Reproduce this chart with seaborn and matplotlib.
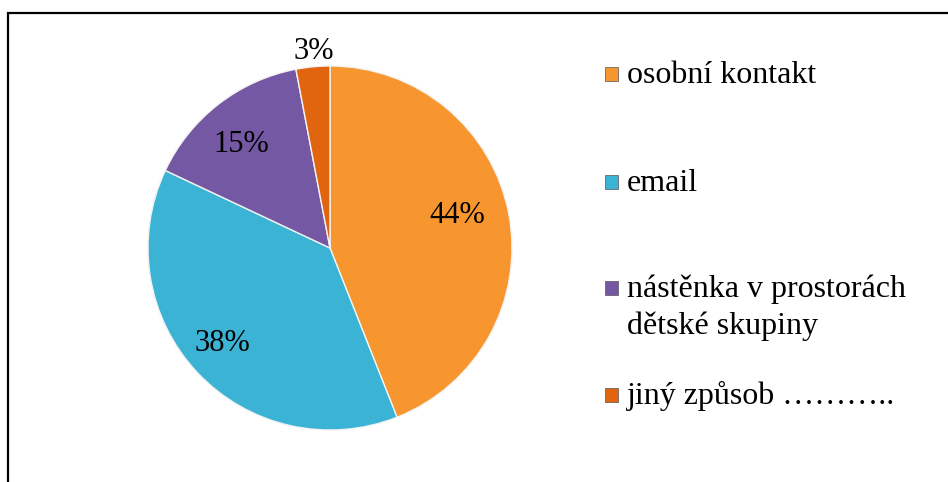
import matplotlib
matplotlib.use("Agg")
import matplotlib.pyplot as plt
from matplotlib.patches import Rectangle
import seaborn as sns

categories = ["osobní kontakt", "email", "nástěnka v prostorách\ndětské skupiny", "jiný způsob ……….."]
values = [44, 38, 15, 3]
colors = ["#F7962F", "#3BB3D5", "#7558A3", "#E1640F"]

sns.set_theme(style="white")
plt.rcParams["font.family"] = ["Liberation Serif", "DejaVu Serif"]

W, H = 948, 482
fig = plt.figure(figsize=(W / 100, H / 100), dpi=100)
fig.patch.set_facecolor("white")

cx, cy, r = 330, 248, 182
ax = fig.add_axes([(cx - r) / W, (H - cy - r) / H, 2 * r / W, 2 * r / H])
wedges, texts, autotexts = ax.pie(
    values, colors=colors, startangle=90, counterclock=False,
    autopct=lambda p: f"{p:.0f}%", pctdistance=0.75,
    wedgeprops=dict(edgecolor="#f2f2f2", linewidth=1.0),
    textprops=dict(fontsize=22, color="black"),
)
ax.set_xlim(-1, 1)
ax.set_ylim(-1, 1)
ax.set_aspect("equal")
ax.axis("off")

# label positions like reference
label_pos = [(0.70, 0.178), (-0.59, -0.522), (-0.49, 0.568), (-0.09, 1.078)]
for t, p in zip(autotexts, label_pos):
    t.set_position(p)

# legend drawn manually
leg_y = [74, 182, 288, 395]
for lab, col, y in zip(categories, colors, leg_y):
    fig.patches.append(Rectangle(((605) / W, (H - y - 7) / H), 13 / W, 14 / H,
                                 transform=fig.transFigure, facecolor=col,
                                 edgecolor="#555555", linewidth=0.5))
    for i, line in enumerate(lab.split("\n")):
        fig.text(627 / W, (H - (y + 9) - i * 37) / H, line, fontsize=23,
                 va="baseline", ha="left", color="black")

# outer frame (only top and left visible)
fig.patches.append(Rectangle((8 / W, -0.2), 1.2, (H - 13) / H + 0.2,
                             transform=fig.transFigure, fill=False,
                             edgecolor="black", linewidth=1.6))

fig.savefig("out.png", dpi=100)
